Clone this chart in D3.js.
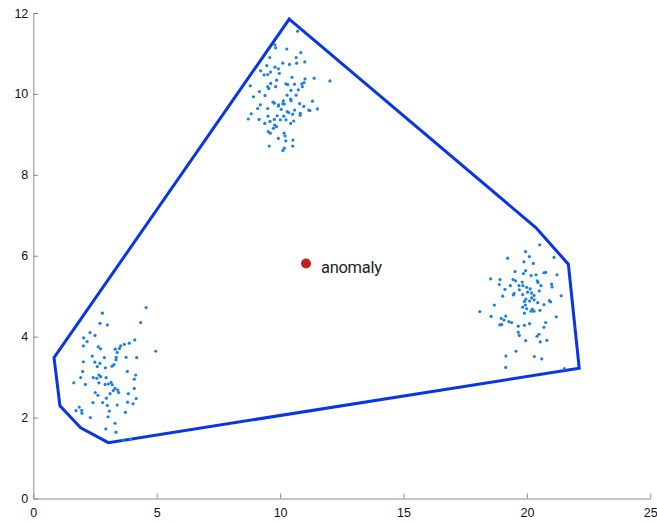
<!DOCTYPE html>
<html>
<head>
<meta charset="utf-8">
<script src="https://cdn.jsdelivr.net/npm/d3@7"></script>
<style>
  html, body { margin: 0; padding: 0; background: #fff; }
  svg { display: block; }
  .axis text { font-family: "Liberation Sans", Arial, Helvetica, sans-serif; font-size: 12.5px; fill: #111; }
  .axis path, .axis line { stroke: #8c8c8c; stroke-width: 1; }
</style>
</head>
<body>
<svg id="chart" width="657" height="523"></svg>
<script>
// Cluster near (10, 10)
const clusterAX = [10.71,9.79,9.82,10.27,10.84,9.58,10.65,10.11,10.38,10.67,11.00,9.46,9.79,9.93,9.21,9.61,9.97,9.35,9.50,10.48,
  11.01,11.38,12.02,9.86,9.62,10.23,10.31,10.58,10.88,10.97,8.79,9.50,9.82,9.54,10.90,10.74,9.16,10.44,8.92,9.39,
  10.28,10.65,10.43,10.44,10.13,11.31,9.20,9.71,9.77,9.94,10.11,10.17,10.79,9.93,9.09,9.50,10.05,10.59,10.96,11.16,
  11.21,11.51,8.83,10.29,10.35,10.82,10.81,9.51,9.88,10.51,10.15,8.71,9.15,9.77,10.01,10.24,10.55,10.43,9.38,9.59,
  9.78,9.85,9.73,9.52,9.60,10.16,10.20,9.93,10.23,10.52,9.56,10.51,10.17,10.11];
const clusterAY = [11.55,11.21,11.14,11.11,11.02,10.90,10.90,10.76,10.73,10.76,10.79,10.70,10.66,10.62,10.57,10.54,10.51,10.47,10.48,10.41,
  10.37,10.39,10.32,10.34,10.26,10.25,10.23,10.24,10.25,10.28,10.20,10.18,10.18,10.13,10.18,10.10,10.06,10.09,9.93,9.96,
  9.97,9.97,9.87,9.83,9.83,9.82,9.73,9.80,9.77,9.73,9.76,9.75,9.76,9.70,9.64,9.64,9.62,9.60,9.69,9.60,
  9.59,9.63,9.51,9.56,9.54,9.52,9.47,9.45,9.46,9.50,9.45,9.38,9.37,9.37,9.36,9.36,9.33,9.27,9.27,9.32,
  9.23,9.19,9.15,9.07,9.03,9.03,8.96,8.90,8.84,8.86,8.71,8.71,8.66,8.60];

// Cluster near (3, 3)
const clusterBX = [4.57,2.80,4.35,2.70,3.00,2.30,2.50,2.04,2.18,2.03,4.11,3.89,3.69,3.54,3.49,3.32,2.63,2.72,4.96,3.40,
  3.76,4.19,2.39,2.88,3.36,2.03,2.49,2.70,3.35,2.59,3.27,3.19,2.92,2.00,3.81,4.15,2.66,2.43,2.57,2.73,
  2.95,1.92,4.09,1.64,2.11,2.66,2.91,3.04,3.15,3.20,3.31,3.24,3.42,3.46,2.51,3.11,2.62,3.85,4.09,4.17,
  2.96,2.42,2.81,3.00,3.40,3.82,4.04,1.86,1.73,1.96,1.97,3.08,3.73,2.31,3.03,3.31,2.94,3.35,3.65,3.94];
const clusterBY = [4.72,4.58,4.35,4.33,4.29,4.10,4.03,3.97,3.88,3.77,3.92,3.84,3.81,3.77,3.71,3.69,3.75,3.70,3.64,3.61,
  3.49,3.48,3.52,3.48,3.49,3.38,3.37,3.34,3.43,3.26,3.31,3.27,3.23,3.14,3.14,3.05,3.05,2.99,2.97,3.01,
  2.99,2.99,2.95,2.86,2.82,2.86,2.82,2.83,2.87,2.81,2.72,2.67,2.68,2.62,2.62,2.59,2.55,2.59,2.72,2.47,
  2.48,2.37,2.37,2.30,2.31,2.38,2.34,2.26,2.17,2.18,2.11,2.16,2.13,2.00,2.02,1.86,1.72,1.64,1.44,1.46];

// Cluster near (20, 5)
const clusterCX = [20.52,19.95,19.22,20.10,21.10,19.88,20.26,19.52,19.95,19.86,20.76,20.69,20.17,20.37,21.22,18.53,18.91,19.44,19.54,19.81,
  20.42,20.45,18.88,19.33,19.68,19.84,19.99,20.57,21.00,21.02,19.11,19.69,20.13,20.03,20.19,20.50,19.48,19.45,19.83,20.29,
  19.02,21.39,20.19,19.96,20.29,20.11,19.90,20.44,20.91,20.96,19.94,20.69,18.68,19.83,19.99,20.22,20.17,20.53,18.09,19.90,
  20.29,18.55,19.14,18.96,19.07,19.27,19.38,20.11,19.90,19.65,21.19,20.76,20.69,18.90,18.98,19.65,19.69,20.49,20.41,19.95,
  20.54,20.81,19.56,19.15,20.30,20.60,19.14,21.52];
const clusterCY = [6.27,6.10,5.94,5.98,5.96,5.85,5.81,5.61,5.63,5.56,5.59,5.58,5.51,5.53,5.53,5.43,5.41,5.41,5.38,5.35,
  5.38,5.34,5.29,5.26,5.26,5.26,5.22,5.26,5.30,5.23,5.17,5.16,5.18,5.10,5.08,5.13,5.07,5.03,5.04,5.02,
  5.00,5.01,4.96,4.93,4.91,4.88,4.87,4.84,4.89,4.86,4.78,4.79,4.78,4.73,4.69,4.68,4.63,4.65,4.62,4.58,
  4.63,4.50,4.51,4.45,4.41,4.37,4.35,4.32,4.28,4.26,4.49,4.35,4.23,4.29,4.30,4.11,4.03,4.06,4.01,3.90,
  3.87,3.91,3.64,3.52,3.51,3.45,3.24,3.21];

// Enclosing boundary vertices
const hullX = [10.37, 20.37, 21.68, 22.12, 3.04, 1.92, 1.08, 0.84];
const hullY = [11.85, 6.69, 5.79, 3.22, 1.38, 1.75, 2.29, 3.48];

// Outlier
const anomalyX = 11.05;
const anomalyY = 5.81;
const anomalyLabel = "anomaly";

// Axis ticks
const xTicks = [0, 5, 10, 15, 20, 25];
const yTicks = [0, 2, 4, 6, 8, 10, 12];

const svg = d3.select("#chart");

const x = d3.scaleLinear().domain([0, 25]).range([33.3, 650.3]);
const y = d3.scaleLinear().domain([0, 12]).range([498.5, 13]);

// Axes with inward ticks
svg.append("g")
  .attr("class", "axis")
  .attr("transform", `translate(0,${y(0)})`)
  .call(d3.axisBottom(x).tickValues(xTicks).tickSize(-5).tickSizeOuter(0).tickPadding(10).tickFormat(d3.format("d")));

svg.append("g")
  .attr("class", "axis")
  .attr("transform", `translate(${x(0)},0)`)
  .call(d3.axisLeft(y).tickValues(yTicks).tickSize(-5).tickSizeOuter(0).tickPadding(5).tickFormat(d3.format("d")));

// Boundary polygon
const hullPts = hullX.map((v, i) => [x(v), y(hullY[i])]);
svg.append("path")
  .attr("d", d3.line().curve(d3.curveLinearClosed)(hullPts))
  .attr("fill", "none")
  .attr("stroke", "#0836e6")
  .attr("stroke-width", 3)
  .attr("stroke-linejoin", "miter");

// Scatter points
const clusters = [[clusterAX, clusterAY], [clusterBX, clusterBY], [clusterCX, clusterCY]];
clusters.forEach(([xs, ys]) => {
  svg.append("g")
    .selectAll("circle")
    .data(xs.map((v, i) => [v, ys[i]]))
    .join("circle")
    .attr("cx", d => x(d[0]))
    .attr("cy", d => y(d[1]))
    .attr("r", 1.6)
    .attr("fill", "#1a80e8");
});

// Anomaly marker and label
svg.append("circle")
  .attr("cx", x(anomalyX))
  .attr("cy", y(anomalyY))
  .attr("r", 5)
  .attr("fill", "#c61f1f");

svg.append("text")
  .attr("x", x(anomalyX) + 15)
  .attr("y", y(anomalyY) + 10)
  .attr("font-family", "Roboto, 'Open Sans', sans-serif")
  .attr("font-size", 16.5)
  .attr("letter-spacing", -0.3)
  .attr("fill", "#222")
  .text(anomalyLabel);
</script>
</body>
</html>
